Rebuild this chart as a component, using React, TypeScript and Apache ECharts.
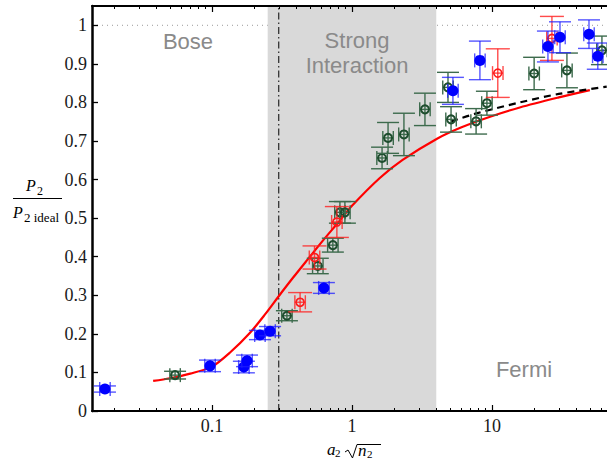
import React, { useEffect, useRef } from "react";
import * as echarts from "echarts";

const X_MIN = 0.0139;
const X_MAX = 66.3;
const Y_MIN = 0;
const Y_MAX = 1.05;

const yTickValues = [0, 0.1, 0.2, 0.3, 0.4, 0.5, 0.6, 0.7, 0.8, 0.9, 1];
const yTickLabels = ["0", "0.1", "0.2", "0.3", "0.4", "0.5", "0.6", "0.7", "0.8", "0.9", "1"];
const xMajorValues = [0.1, 1, 10];
const xMajorLabels = ["0.1", "1", "10"];
const xMinorValues = [
  0.02, 0.03, 0.04, 0.05, 0.06, 0.07, 0.08, 0.09,
  0.2, 0.3, 0.4, 0.5, 0.6, 0.7, 0.8, 0.9,
  2, 3, 4, 5, 6, 7, 8, 9,
  20, 30, 40, 50, 60,
];

const shadeRange = [0.25, 4];
const criticalX = 0.3;
const idealLevel = 1;

// Blue (filled) measurements
const blueX = [0.0172, 0.0968, 0.169, 0.178, 0.22, 0.26, 0.63, 5.26, 8.2, 25.1, 30.6, 49.3, 57];
const blueY = [0.057, 0.117, 0.114, 0.13, 0.197, 0.207, 0.319, 0.83, 0.909, 0.945, 0.969, 0.977, 0.92];
const blueYErr = [0.008, 0.015, 0.015, 0.015, 0.012, 0.012, 0.014, 0.035, 0.05, 0.04, 0.04, 0.037, 0.034];

// Green (open) measurements
const greenX = [0.0545, 0.343, 0.57, 0.73, 0.82, 0.89, 1.64, 1.81, 2.35, 3.32, 4.85, 5.1, 7.7, 9.2, 20, 34.3, 61];
const greenY = [0.093, 0.247, 0.376, 0.43, 0.515, 0.515, 0.656, 0.708, 0.717, 0.782, 0.839, 0.756, 0.751, 0.798, 0.875, 0.883, 0.935];
const greenYErr = [0.01, 0.013, 0.02, 0.018, 0.028, 0.028, 0.028, 0.04, 0.055, 0.042, 0.039, 0.033, 0.033, 0.031, 0.042, 0.045, 0.037];

// Red (open) measurements
const redX = [0.426, 0.54, 0.78, 11.0, 26.8];
const redY = [0.282, 0.398, 0.49, 0.876, 0.966];
const redYErr = [0.025, 0.03, 0.04, 0.063, 0.057];

const xErrFrac = 0.09;

// Theory curve (red)
const curveX = [0.038, 0.05, 0.07, 0.1, 0.134, 0.187, 0.24, 0.296, 0.38, 0.485, 0.63, 0.82, 1.0, 1.58, 2.3, 4.05, 6, 9.7, 15.8, 30, 50];
const curveY = [0.078, 0.085, 0.097, 0.115, 0.151, 0.203, 0.251, 0.295, 0.346, 0.394, 0.445, 0.494, 0.532, 0.604, 0.651, 0.706, 0.735, 0.763, 0.787, 0.813, 0.832];

// Fermi-liquid asymptote (black dashed)
const dashX = [5.1, 8, 15.8, 30, 66];
const dashY = [0.751, 0.773, 0.8, 0.822, 0.841];

const L = (v: number) => Math.log10(v);

const labelFrom = (vals: number[], labels: string[]) => (v: number) => {
  const i = vals.findIndex((t) => Math.abs(t - v) < 1e-6);
  return i >= 0 ? labels[i] : "";
};

function pointRenderer(kind: "blue" | "green" | "red") {
  const errColor =
    kind === "blue" ? "rgba(30,30,255,0.75)" : kind === "green" ? "#3d6b4d" : "rgba(255,30,30,0.8)";
  return (params: any, api: any) => {
    const x = api.value(0);
    const y = api.value(1);
    const ye = api.value(2);
    const xe = api.value(3);
    const c = api.coord([x, y]);
    const top = api.coord([x, y + ye]);
    const bot = api.coord([x, y - ye]);
    const left = api.coord([x - xe, y]);
    const right = api.coord([x + xe, y]);
    const capW = kind === "red" ? 12 : 11;
    const capH = 7;
    const ls = { stroke: errColor, lineWidth: 1.4 };
    const children: any[] = [
      { type: "line", shape: { x1: c[0], y1: top[1], x2: c[0], y2: bot[1] }, style: ls },
      { type: "line", shape: { x1: c[0] - capW, y1: top[1], x2: c[0] + capW, y2: top[1] }, style: ls },
      { type: "line", shape: { x1: c[0] - capW, y1: bot[1], x2: c[0] + capW, y2: bot[1] }, style: ls },
      { type: "line", shape: { x1: left[0], y1: c[1], x2: right[0], y2: c[1] }, style: ls },
      { type: "line", shape: { x1: left[0], y1: c[1] - capH, x2: left[0], y2: c[1] + capH }, style: ls },
      { type: "line", shape: { x1: right[0], y1: c[1] - capH, x2: right[0], y2: c[1] + capH }, style: ls },
    ];
    if (kind === "blue") {
      children.push({ type: "circle", shape: { cx: c[0], cy: c[1], r: 5.5 }, style: { fill: "#0000ff" } });
    } else if (kind === "green") {
      children.push({
        type: "circle",
        shape: { cx: c[0], cy: c[1], r: 4 },
        style: { fill: "rgba(0,0,0,0)", stroke: "#1e4d2e", lineWidth: 2 },
      });
    } else {
      children.push({
        type: "circle",
        shape: { cx: c[0], cy: c[1], r: 4 },
        style: { fill: "rgba(0,0,0,0)", stroke: "#ff1a1a", lineWidth: 1.6 },
      });
    }
    return { type: "group", children };
  };
}

const serif = "Liberation Serif";
const sans = "Liberation Sans";

const txt = (x: number, y: number, text: string, extra: any) => ({
  type: "text",
  x,
  y,
  z: 20,
  style: {
    text,
    fill: "#000",
    align: "left",
    verticalAlign: "middle",
    textAlign: "left",
    textVerticalAlign: "middle",
    ...extra,
  },
});

export default function App() {
  const ref = useRef<HTMLDivElement>(null);

  useEffect(() => {
    if (!ref.current) return;
    const chart = echarts.init(ref.current, null, { renderer: "svg" });

    const xe = L(1 + xErrFrac);
    const mk = (xs: number[], ys: number[], es: number[]) => xs.map((x, i) => [L(x), ys[i], es[i], xe]);

    const xBase = {
      type: "value",
      min: L(X_MIN),
      max: L(X_MAX),
      splitLine: { show: false },
      z: 10,
    };

    const option: any = {
      animation: false,
      textStyle: { fontFamily: serif },
      grid: { left: 92, right: 0, top: 6, bottom: 49, containLabel: false },
      xAxis: [
        {
          ...xBase,
          position: "bottom",
          axisLine: { show: true, onZero: false, lineStyle: { color: "#000", width: 2 } },
          axisTick: { show: true, inside: true, length: 6, customValues: xMajorValues.map(L), lineStyle: { color: "#000", width: 1.2 } },
          axisLabel: {
            show: true,
            customValues: xMajorValues.map(L),
            formatter: labelFrom(xMajorValues.map(L), xMajorLabels),
            fontFamily: serif,
            fontSize: 18,
            color: "#1a1a1a",
            margin: 6,
          },
        },
        {
          ...xBase,
          position: "bottom",
          axisLine: { show: false, onZero: false },
          axisTick: { show: true, inside: true, length: 3, customValues: xMinorValues.map(L), lineStyle: { color: "#000", width: 1 } },
          axisLabel: { show: false },
        },
        {
          ...xBase,
          position: "top",
          axisLine: { show: true, onZero: false, lineStyle: { color: "#000", width: 2 } },
          axisTick: { show: true, inside: true, length: 6, customValues: xMajorValues.map(L), lineStyle: { color: "#000", width: 1.2 } },
          axisLabel: { show: false },
        },
        {
          ...xBase,
          position: "top",
          axisLine: { show: false, onZero: false },
          axisTick: { show: true, inside: true, length: 3, customValues: xMinorValues.map(L), lineStyle: { color: "#000", width: 1 } },
          axisLabel: { show: false },
        },
      ],
      yAxis: [
        {
          type: "value",
          min: Y_MIN,
          max: Y_MAX,
          position: "left",
          z: 10,
          splitLine: { show: false },
          axisLine: { show: true, onZero: false, lineStyle: { color: "#000", width: 2.5 } },
          axisTick: { show: true, inside: true, length: 6, customValues: yTickValues, lineStyle: { color: "#000", width: 1.3 } },
          axisLabel: {
            show: true,
            customValues: yTickValues,
            formatter: labelFrom(yTickValues, yTickLabels),
            fontFamily: serif,
            fontSize: 18,
            color: "#1a1a1a",
            margin: 5,
          },
        },
      ],
      series: [
        {
          type: "line",
          z: 1,
          data: [
            [L(X_MIN), idealLevel],
            [L(X_MAX), idealLevel],
          ],
          symbol: "none",
          lineStyle: { color: "#9a9a9a", width: 1, type: [1, 4] },
          silent: true,
        },
        {
          type: "custom",
          z: 2,
          silent: true,
          data: [[L(shadeRange[0]), L(shadeRange[1])]],
          renderItem: (params: any, api: any) => {
            const a = api.coord([api.value(0), Y_MAX]);
            const b = api.coord([api.value(1), Y_MIN]);
            return {
              type: "rect",
              shape: { x: a[0], y: a[1], width: b[0] - a[0], height: b[1] - a[1] },
              style: { fill: "#d9d9d9" },
            };
          },
          encode: { x: [0, 1] },
        },
        {
          type: "line",
          z: 3,
          data: [
            [L(criticalX), Y_MIN],
            [L(criticalX), Y_MAX],
          ],
          symbol: "none",
          lineStyle: { color: "#000", width: 1, type: [7, 3, 1.5, 3] },
          silent: true,
        },
        {
          type: "line",
          z: 4,
          data: curveX.map((x, i) => [L(x), curveY[i]]),
          smooth: 0.3,
          symbol: "none",
          lineStyle: { color: "#ff0000", width: 2.2 },
          silent: true,
        },
        {
          type: "line",
          z: 4,
          data: dashX.map((x, i) => [L(x), dashY[i]]),
          smooth: 0.3,
          symbol: "none",
          lineStyle: { color: "#000", width: 2.2, type: [7, 5] },
          silent: true,
        },
        {
          type: "custom",
          z: 5,
          data: mk(greenX, greenY, greenYErr),
          renderItem: pointRenderer("green"),
          encode: { x: 0, y: 1 },
        },
        {
          type: "custom",
          z: 6,
          data: mk(redX, redY, redYErr),
          renderItem: pointRenderer("red"),
          encode: { x: 0, y: 1 },
        },
        {
          type: "custom",
          z: 7,
          data: mk(blueX, blueY, blueYErr),
          renderItem: pointRenderer("blue"),
          encode: { x: 0, y: 1 },
        },
      ],
      graphic: [
        { type: "text", x: 188, y: 41, z: 20, style: { text: "Bose", fontFamily: sans, fontSize: 22, fill: "#8a8a8a", align: "center", verticalAlign: "middle", textAlign: "center", textVerticalAlign: "middle" } },
        { type: "text", x: 357, y: 40, z: 20, style: { text: "Strong", fontFamily: sans, fontSize: 22, fill: "#8a8a8a", align: "center", verticalAlign: "middle", textAlign: "center", textVerticalAlign: "middle" } },
        { type: "text", x: 357, y: 65, z: 20, style: { text: "Interaction", fontFamily: sans, fontSize: 22, fill: "#8a8a8a", align: "center", verticalAlign: "middle", textAlign: "center", textVerticalAlign: "middle" } },
        { type: "text", x: 524, y: 369, z: 20, style: { text: "Fermi", fontFamily: sans, fontSize: 22, fill: "#8a8a8a", align: "center", verticalAlign: "middle", textAlign: "center", textVerticalAlign: "middle" } },
        // y-axis title: P2 / P2 ideal
        txt(26, 185, "P", { fontFamily: serif, fontStyle: "italic", fontSize: 16 }),
        txt(37, 191, "2", { fontFamily: serif, fontSize: 12 }),
        { type: "line", z: 20, shape: { x1: 13, y1: 198.5, x2: 62, y2: 198.5 }, style: { stroke: "#000", lineWidth: 1 } },
        txt(13, 212, "P", { fontFamily: serif, fontStyle: "italic", fontSize: 16 }),
        txt(24, 217, "2 ideal", { fontFamily: serif, fontSize: 13 }),
        // x-axis title: a2 sqrt(n2)
        txt(327, 449, "a", { fontFamily: serif, fontStyle: "italic", fontSize: 17 }),
        txt(335, 453, "2", { fontFamily: serif, fontSize: 11 }),
        { type: "polyline", z: 20, shape: { points: [[345, 452], [348, 450], [352.5, 458], [357, 444.5], [381, 444.5]] }, style: { stroke: "#000", lineWidth: 1, fill: null } },
        txt(358, 450, "n", { fontFamily: serif, fontStyle: "italic", fontSize: 17 }),
        txt(367, 454, "2", { fontFamily: serif, fontSize: 11 }),
      ],
    };

    chart.setOption(option);
    return () => chart.dispose();
  }, []);

  return <div ref={ref} style={{ position: "absolute", left: 0, top: 0, width: 607, height: 460 }} />;
}
